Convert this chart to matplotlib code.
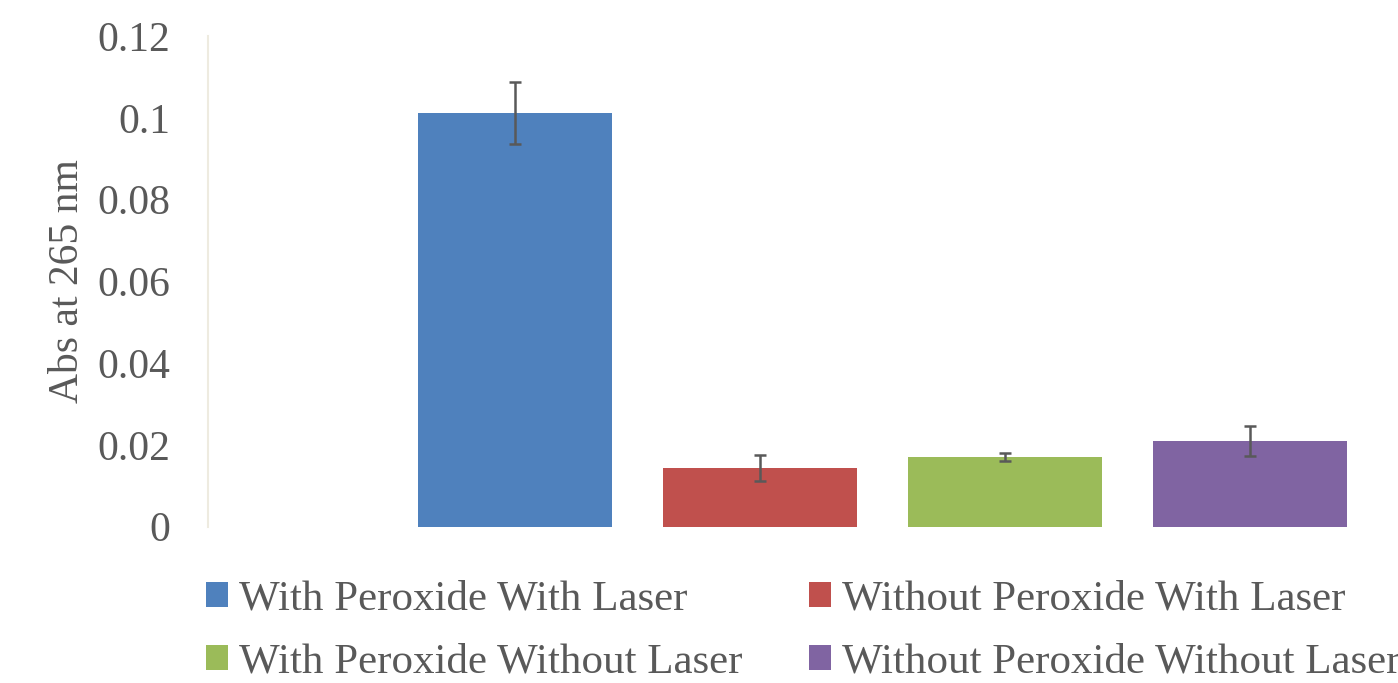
import matplotlib
matplotlib.use("Agg")
import matplotlib.pyplot as plt
from matplotlib.patches import Patch

series = ["With Peroxide With Laser", "Without Peroxide With Laser",
          "With Peroxide Without Laser", "Without Peroxide Without Laser"]
values = [0.1012, 0.01435, 0.01704, 0.02095]
errors = [0.0076, 0.0032, 0.00093, 0.0036]
colors = ["#4F81BD", "#C0504D", "#9BBB59", "#8064A2"]
yticks = [0, 0.02, 0.04, 0.06, 0.08, 0.1, 0.12]
ytick_labels = ["0", "0.02", "0.04", "0.06", "0.08", "0.1", "0.12"]

plt.rcParams['font.family'] = ['Liberation Serif', 'DejaVu Serif']
txt = "#595959"

fig = plt.figure(figsize=(13.98, 6.83), dpi=100)
ax = fig.add_axes([207.7/1398, 1-526.7/683, 1-207.7/1398, (526.7-36)/683])

x = list(range(len(series)))
ax.bar(x, values, width=0.79, color=colors, zorder=2)
ax.errorbar(x, values, yerr=errors, fmt='none', ecolor="#595959",
            elinewidth=1.8, capsize=4.5, capthick=1.8, zorder=3)

ax.set_xlim(-1.254, 3.604)
ax.set_ylim(0, 0.12)
ax.set_yticks(yticks)
ax.set_yticklabels(ytick_labels)
ax.set_xticks([])
ax.tick_params(axis='y', length=0, pad=27, labelsize=30, labelcolor=txt)
for s in ['top', 'right', 'bottom']:
    ax.spines[s].set_visible(False)
ax.spines['left'].set_color("#EEEBE0")
ax.spines['left'].set_linewidth(1.5)
ax.set_ylabel("Abs at 265 nm", fontsize=30, color=txt, labelpad=7)

# legend filled row by row (matplotlib fills column-major)
order = [0, 2, 1, 3]
handles = [Patch(facecolor=colors[i], edgecolor='none') for i in order]
labels = [series[i] for i in order]
leg = fig.legend(handles, labels, ncol=2, loc='upper left',
                 bbox_to_anchor=(206/1398, 1-580/683), frameon=False,
                 fontsize=31, handlelength=0.51, handleheight=0.51,
                 handletextpad=0.25, columnspacing=1.55, labelspacing=0.57,
                 borderaxespad=0, borderpad=0)
for t in leg.get_texts():
    t.set_color(txt)

fig.savefig("out.png", dpi=100)
